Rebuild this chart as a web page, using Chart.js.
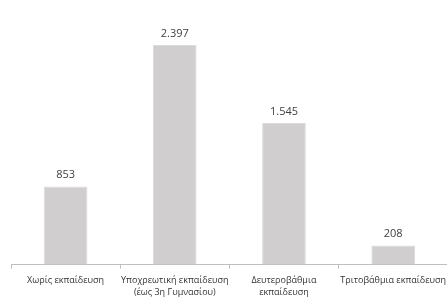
<!DOCTYPE html>
<html>
<head>
<meta charset="utf-8">
<script src="https://cdn.jsdelivr.net/npm/chart.js@4"></script>
<style>
    html, body { margin: 0; padding: 0; background: #fff; overflow: hidden; }
    #wrap { width: 452px; height: 306px; }
</style>
</head>
<body>
<div id="wrap"><canvas id="chart"></canvas></div>
<script>
const categories = [
    'Χωρίς εκπαίδευση',
    ['Υποχρεωτική εκπαίδευση', '(έως 3η Γυμνασίου)'],
    ['Δευτεροβάθμια', 'εκπαίδευση'],
    'Τριτοβάθμια εκπαίδευση'
];
const values = [853, 2397, 1545, 208];

function formatGreek(n) {
    return String(n).replace(/\B(?=(\d{3})+(?!\d))/g, '.');
}

// draws value above each bar
const valueLabels = {
    id: 'valueLabels',
    afterDatasetsDraw(chart) {
        const ctx = chart.ctx;
        const meta = chart.getDatasetMeta(0);
        ctx.save();
        ctx.font = '11px "Open Sans"';
        ctx.fillStyle = '#404040';
        ctx.textAlign = 'center';
        ctx.textBaseline = 'bottom';
        meta.data.forEach((bar, i) => {
            ctx.fillText(formatGreek(values[i]), bar.x, bar.y - 6);
        });
        ctx.restore();
    }
};

new Chart(document.getElementById('chart').getContext('2d'), {
    type: 'bar',
    data: {
        labels: categories,
        datasets: [{
            data: values,
            backgroundColor: '#d0cece',
            borderColor: '#dcdada',
            borderWidth: 1,
            barPercentage: 0.4,
            categoryPercentage: 1.0
        }]
    },
    options: {
        responsive: true,
        maintainAspectRatio: false,
        animation: false,
        layout: { padding: { left: 11, right: 0, top: 8, bottom: 2 } },
        plugins: {
            legend: { display: false },
            tooltip: { enabled: false }
        },
        scales: {
            x: {
                offset: true,
                grid: {
                    offset: true,
                    drawOnChartArea: false,
                    drawTicks: true,
                    tickLength: 4,
                    color: '#bfbfbf'
                },
                border: { display: true, color: '#bfbfbf' },
                ticks: {
                    autoSkip: false,
                    maxRotation: 0,
                    minRotation: 0,
                    padding: 6,
                    color: '#333333',
                    font: { family: 'Open Sans', size: 9, lineHeight: 1.3 }
                }
            },
            y: {
                display: false,
                min: 0,
                max: 2800
            }
        }
    },
    plugins: [valueLabels]
});
</script>
</body>
</html>
